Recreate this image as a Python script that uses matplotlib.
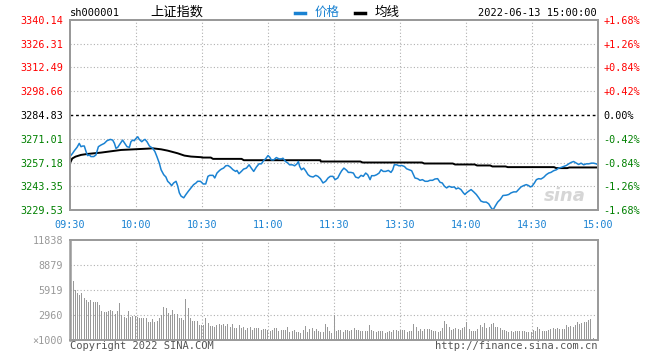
import matplotlib
matplotlib.use('Agg')
import matplotlib.pyplot as plt
from matplotlib.lines import Line2D
import numpy as np

# --- data (minutes since 09:30, trading time) ---
prev_close = 3284.83
price_ticks = [3340.14, 3326.31, 3312.49, 3298.66, 3284.83, 3271.01, 3257.18, 3243.35, 3229.53]
pct_labels = ['+1.68%', '+1.26%', '+0.84%', '+0.42%', '0.00%', '-0.42%', '-0.84%', '-1.26%', '-1.68%']
time_ticks = [0, 30, 60, 90, 120, 150, 180, 210, 240]
time_labels = ['09:30', '10:00', '10:30', '11:00', '11:30', '13:30', '14:00', '14:30', '15:00']

price_min = [0.0, 1.2, 2.0, 3.2, 4.2, 5.0, 5.8, 6.5, 7.3, 8.0, 8.8, 9.5, 10.8, 11.8, 12.9, 14.1,
             15.6, 16.8, 18.3, 19.4, 20.2, 20.9, 21.7, 22.9, 23.9, 24.7, 25.9, 27.0, 27.7, 28.5,
             29.2, 30.0, 30.8, 31.5, 32.6, 33.5, 34.1, 35.0, 36.1, 37.6, 38.6, 39.5, 40.6, 41.4,
             42.6, 43.6, 44.4, 45.2, 46.2, 47.1, 48.2, 48.9, 49.7, 50.5, 51.7, 52.7, 53.8, 55.0,
             56.2, 57.3, 58.0, 59.2, 59.8,
             60.5, 61.7, 62.7, 63.5, 65.0, 65.8, 66.8, 68.0, 68.8, 69.8, 70.8, 71.8, 72.9, 74.1,
             75.3, 75.9, 76.8, 77.9, 78.9, 80.2, 81.4, 82.4, 83.5, 84.7, 85.9, 87.0, 88.0, 88.9,
             90.0, 90.8, 91.5, 92.6, 93.8, 95.0, 96.1, 96.8, 98.0, 99.1, 99.8, 101.1, 102.1, 103.2,
             103.8, 104.4, 105.2, 106.2, 107.1, 108.2, 109.2, 110.5, 111.7, 112.7, 113.8, 115.0,
             116.2, 117.3, 118.3, 119.5,
             120.5, 121.7, 122.7, 123.5, 124.5, 125.8, 126.5, 127.7, 128.8, 129.8, 131.1, 132.3,
             133.3, 134.4, 135.3, 136.4, 137.1, 138.3, 139.4, 140.5, 141.4, 142.4, 143.5, 144.7,
             145.9, 146.7, 147.4, 148.5, 149.5, 150.8, 152.0, 153.0, 154.1, 155.3, 156.1, 156.8,
             158.0, 159.1, 160.2, 161.4, 162.6, 163.6, 164.8, 165.9, 167.1, 168.2, 169.2, 170.2,
             171.2, 172.3, 173.5, 174.7, 175.5, 176.5, 177.7, 178.8, 179.5,
             180.2, 181.2, 182.3, 183.5, 184.7, 185.8, 186.8, 188.0, 189.2, 190.3, 191.4, 192.3,
             193.3, 194.4, 195.6, 196.8, 198.3, 199.4, 200.5, 201.7, 202.9, 203.9, 205.0, 206.2,
             207.4, 208.5, 209.2, 210.0, 211.1, 212.0, 213.0, 214.1, 215.3, 216.5, 217.6, 218.6,
             219.8, 221.1, 222.1, 223.2, 224.4, 225.6, 226.7, 227.7, 228.9, 230.2, 231.2, 232.3,
             233.5, 234.7, 235.8, 237.0, 238.0, 239.2, 240.0]
price = [3260.64, 3262.56, 3264.09, 3266.02, 3268.32, 3266.40, 3266.78, 3266.78, 3263.52, 3261.21,
         3261.60, 3260.64, 3260.64, 3261.60, 3266.40, 3267.36, 3268.32, 3269.86, 3270.63, 3270.24,
         3268.32, 3265.44, 3266.02, 3268.32, 3270.24, 3268.71, 3266.40, 3266.02, 3269.28, 3270.24,
         3269.86, 3271.20, 3272.16, 3270.63, 3269.28, 3270.24, 3270.63, 3269.28, 3266.78, 3265.44,
         3263.52, 3260.64, 3256.80, 3252.96, 3250.08, 3248.73, 3246.24, 3245.27, 3243.73, 3245.27,
         3246.24, 3243.73, 3239.51, 3237.59, 3236.63, 3238.55, 3240.47, 3242.39, 3244.31, 3245.27,
         3246.24, 3246.24, 3245.66,
         3244.69, 3244.69, 3249.12, 3249.70, 3249.70, 3248.16, 3251.04, 3252.57, 3253.34, 3253.92,
         3255.26, 3255.45, 3254.49, 3252.96, 3252.00, 3252.57, 3250.66, 3252.00, 3253.34, 3253.92,
         3255.84, 3253.92, 3252.00, 3254.49, 3256.41, 3256.41, 3258.33, 3259.29, 3261.21, 3260.25,
         3258.72, 3258.72, 3260.06, 3259.29, 3259.29, 3259.68, 3257.76, 3256.80, 3255.84, 3255.84,
         3255.26, 3256.41, 3257.76, 3254.88, 3252.96, 3253.92, 3252.38, 3250.08, 3249.12, 3248.73,
         3249.70, 3249.12, 3247.77, 3245.27, 3246.24, 3248.16, 3249.12, 3249.12,
         3247.20, 3248.16, 3250.66, 3252.38, 3253.92, 3252.57, 3251.42, 3251.42, 3251.04, 3248.73,
         3248.16, 3249.70, 3249.12, 3251.04, 3250.08, 3247.20, 3249.50, 3249.50, 3250.08, 3251.04,
         3252.96, 3252.00, 3252.00, 3252.57, 3251.42, 3252.96, 3255.84, 3255.84, 3255.26, 3255.45,
         3254.88, 3253.53, 3252.96, 3252.38, 3250.08, 3248.16, 3247.77, 3246.81, 3247.20, 3246.24,
         3246.24, 3246.81, 3246.81, 3247.58, 3247.77, 3245.66, 3245.27, 3243.35, 3242.39, 3243.35,
         3242.77, 3242.97, 3241.81, 3242.39, 3241.43, 3239.51, 3238.55,
         3239.51, 3240.47, 3241.43, 3240.08, 3238.55, 3236.63, 3234.71, 3234.13, 3234.13, 3233.17,
         3230.87, 3229.53, 3231.83, 3234.13, 3235.67, 3237.97, 3238.16, 3238.55, 3239.51, 3240.08,
         3240.08, 3241.43, 3242.97, 3243.73, 3244.31, 3243.73, 3242.97, 3243.35, 3245.27, 3247.20,
         3247.77, 3247.58, 3248.54, 3250.08, 3251.04, 3251.42, 3252.38, 3252.96, 3253.92, 3254.30,
         3254.88, 3255.45, 3256.41, 3257.18, 3257.76, 3256.80, 3256.03, 3256.80, 3255.84, 3256.41,
         3256.41, 3256.80, 3256.80, 3256.41, 3255.84]

avg_min = [0, 1, 2.5, 5, 8, 14.1, 18.6, 23.2, 29.2, 35.3, 37.6, 41.4, 44.4, 48.9, 52, 55, 59.8,
           60, 64, 65, 78, 79, 113.8, 114, 132, 133, 160, 161, 174, 175, 184, 185, 191, 192, 198,
           199, 220, 221, 226, 227, 240]
avg_price = [3256.80, 3259.50, 3260.60, 3261.60, 3262.17, 3262.94, 3263.71, 3264.48, 3264.86,
             3265.25, 3265.44, 3264.86, 3264.09, 3262.56, 3261.21, 3260.64, 3260.25,
             3260.06, 3260.06, 3259.29, 3259.29, 3258.52, 3258.52, 3257.76, 3257.76, 3257.18,
             3257.18, 3256.60, 3256.60, 3256.03, 3256.03, 3255.45, 3255.45, 3254.88, 3254.88,
             3254.49, 3254.49, 3253.92, 3253.92, 3254.30, 3254.30]

# volume in lots (x1000), one bar per pixel column
volume = [6984, 5919, 5524, 5327, 5524, 4933, 4735, 4538, 4735, 4538,
          4538, 4538, 4143, 3433, 3354, 3354, 3433, 3551, 3472, 3078,
          3433, 4341, 2960, 2683, 2565, 3433, 2762, 2881, 2881, 2762,
          2644, 2644, 2644, 2644, 2170, 2170, 2447, 2170, 2249,
          2565, 2960, 3867, 3749, 3157, 2960, 3551, 3038, 3038, 2644,
          2644, 2368, 4854, 3828, 2565, 2249, 2249, 2249, 1776,
          1776, 1776, 2565, 2052, 1697, 1697, 1578, 1776, 1894, 1776,
          1894, 1697, 1894, 1578, 1894, 1460, 1460, 1776, 1460, 1578,
          1184, 1381, 1578, 1184, 1381, 1460, 1381, 1184, 1302, 1302,
          1184, 1065, 1184, 1460, 1381, 1065, 1184, 1184, 1184,
          1578, 908, 1065, 1184, 908, 908, 789, 1184, 1657, 987,
          1302, 1460, 1065, 1302, 1065, 987, 987, 1855, 1578, 1065,
          868, 2960,
          1065, 1184, 1184, 908, 1184, 1184, 1065, 1184, 1460, 1184,
          1184, 1065, 1065, 1065, 1065, 1776, 1184, 1065, 908, 1065,
          1065, 1065, 789, 987, 1065, 987, 1184, 1184, 1065, 1184,
          1184, 1184, 987, 1065, 1065, 1894, 1578, 1065, 1302, 1065,
          1302, 1302, 1302, 1184, 1065, 1065, 987, 1065, 1460, 2249,
          1894, 1578, 1184, 1302, 1460, 1302, 1184, 1460, 1578, 2091,
          1302, 1065, 1065, 1065, 1302, 1776, 1578, 1973, 1460, 1578,
          1894, 1973, 1578, 1578, 1460, 1184, 1184, 1065, 987, 1065,
          987, 1065, 1065, 1065, 1065, 1065, 987, 908, 987, 1184,
          1065, 1578, 1302, 1065, 1065, 1065, 1184, 1302, 1460, 1302,
          1460, 1302, 1302, 1302, 1776, 1578, 1657, 1578, 1776, 2091,
          1855, 1973, 2091, 2170, 2368, 2486, 197]
vol_ticks = [0, 2960, 5919, 8879, 11838]
vol_labels = ['\u00d71000', '2960', '5919', '8879', '11838']

W, H = 660, 360
mono = 'DejaVu Sans Mono'
cjk = ['Noto Sans CJK SC', 'DejaVu Sans']
grey = '#999999'
grid_kw = dict(color='#b0b0b0', linestyle=(0, (1, 2)), linewidth=0.8)
blue = '#1a82d2'

fig = plt.figure(figsize=(W / 100, H / 100), dpi=100)


def rect(x0, y0, x1, y1):
    return [x0 / W, 1 - y1 / H, (x1 - x0) / W, (y1 - y0) / H]


ax = fig.add_axes(rect(70, 20, 598, 210))
ax.set_xlim(0, 240)
ax.set_ylim(price_ticks[-1], price_ticks[0])
for t in time_ticks[1:-1]:
    ax.axvline(t, **grid_kw, zorder=0)
for p in price_ticks[1:-1]:
    if p == prev_close:
        ax.axhline(p, color='black', linestyle=(0, (2, 2)), linewidth=1, zorder=1)
    else:
        ax.axhline(p, **grid_kw, zorder=0)
ax.plot(avg_min, avg_price, color='black', linewidth=1.4, zorder=3)
ax.plot(price_min, price, color=blue, linewidth=1.1, zorder=4)

ax.set_yticks(price_ticks)
ax.set_yticklabels([f'{p:.2f}' for p in price_ticks], fontfamily=mono, fontsize=7.3)
ax.set_xticks(time_ticks)
ax.set_xticklabels(time_labels, fontfamily=mono, fontsize=7.3, color=blue)
ax.tick_params(length=0, pad=5)
ax.tick_params(axis='x', pad=7)


def level_color(p):
    if p > prev_close + 0.01:
        return 'red'
    if p < prev_close - 0.01:
        return 'green'
    return 'black'


for lab, p in zip(ax.get_yticklabels(), price_ticks):
    lab.set_color(level_color(p))

axr = ax.twinx()
axr.set_ylim(ax.get_ylim())
axr.set_yticks(price_ticks)
axr.set_yticklabels(pct_labels, fontfamily=mono, fontsize=7.3)
axr.tick_params(length=0, pad=4)
for lab, p in zip(axr.get_yticklabels(), price_ticks):
    lab.set_color(level_color(p))

for a in (ax, axr):
    for s in a.spines.values():
        s.set_color(grey)
        s.set_linewidth(1.4)

ax.text(225, 3237.5, 'sina', fontsize=13, fontweight='bold', fontstyle='italic',
        color='#d6d6d6', ha='center', va='center', zorder=2)

# volume panel
axv = fig.add_axes(rect(70, 240, 598, 340))
vx = np.linspace(1.2, 237.5, len(volume))
axv.vlines(vx, 0, volume, color=grey, linewidth=0.72, antialiased=False, zorder=3)
axv.set_xlim(0, 240)
axv.set_ylim(0, vol_ticks[-1])
for t in time_ticks[1:-1]:
    axv.axvline(t, **grid_kw, zorder=0)
for v in vol_ticks[1:-1]:
    axv.axhline(v, **grid_kw, zorder=0)
axv.set_xticks([])
axv.set_yticks(vol_ticks)
axv.set_yticklabels(vol_labels, fontfamily=mono, fontsize=7.3, color=grey)
axv.tick_params(length=0, pad=5)
for s in axv.spines.values():
    s.set_color(grey)
    s.set_linewidth(1.4)
axv.spines['left'].set_linewidth(1.8)

# header
fig.text(70 / W, 1 - 13.5 / H, 'sh000001', fontfamily=mono, fontsize=7.5, va='center', ha='left')
fig.text(177 / W, 1 - 12.5 / H, '上证指数', fontfamily=cjk, fontsize=9.5, va='center', ha='center')
fig.add_artist(Line2D([295 / W, 305 / W], [1 - 13 / H] * 2, color=blue, linewidth=2.5))
fig.text(315 / W, 1 - 12.5 / H, '价格', fontfamily=cjk, fontsize=9, color=blue, va='center', ha='left')
fig.add_artist(Line2D([355 / W, 365 / W], [1 - 13 / H] * 2, color='black', linewidth=2.5))
fig.text(375 / W, 1 - 12.5 / H, '均线', fontfamily=cjk, fontsize=9, va='center', ha='left')
fig.text(597 / W, 1 - 13.5 / H, '2022-06-13 15:00:00', fontfamily=mono, fontsize=7.5,
         va='center', ha='right')

# footer
fig.text(70 / W, 1 - 346 / H, 'Copyright 2022 SINA.COM', fontfamily=mono, fontsize=7.5,
         color='#555555', va='center', ha='left')
fig.text(598 / W, 1 - 346 / H, 'http://finance.sina.com.cn', fontfamily=mono, fontsize=7.5,
         color='#555555', va='center', ha='right')

fig.savefig('out.png', dpi=100, facecolor='white')
